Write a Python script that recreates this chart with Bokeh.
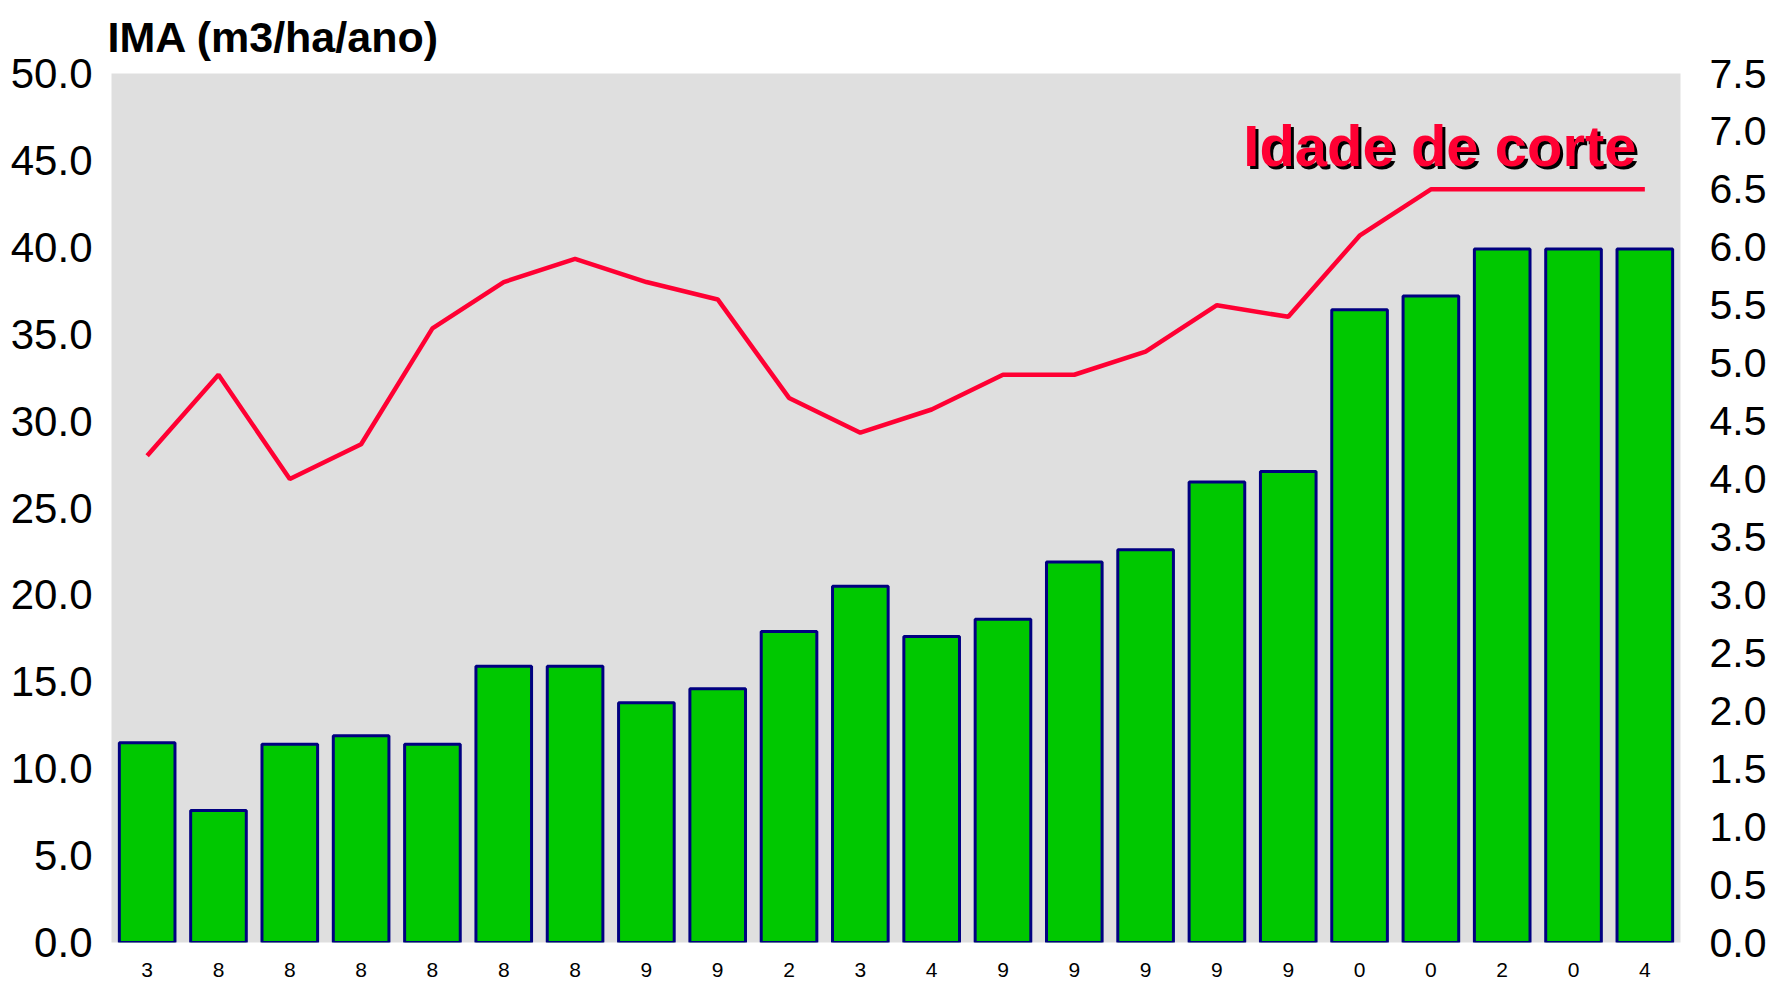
from bokeh.plotting import figure
from bokeh.models import Range1d, LinearAxis, FixedTicker, PrintfTickFormatter, Label
from bokeh.embed import file_html
from bokeh.resources import INLINE

# ---- data ----
x_labels = ["3", "8", "8", "8", "8", "8", "8", "9", "9", "2", "3",
            "4", "9", "9", "9", "9", "9", "0", "0", "2", "0", "4"]
ima = [11.5, 7.6, 11.4, 11.9, 11.4, 15.9, 15.9, 13.8, 14.6, 17.9, 20.5,
       17.6, 18.6, 21.9, 22.6, 26.5, 27.1, 36.4, 37.2, 39.9, 39.9, 39.9]
idade = [4.2, 4.9, 4.0, 4.3, 5.3, 5.7, 5.9, 5.7, 5.55, 4.7, 4.4,
         4.6, 4.9, 4.9, 5.1, 5.5, 5.4, 6.1, 6.5, 6.5, 6.5, 6.5]
left_ticks = [0, 5, 10, 15, 20, 25, 30, 35, 40, 45, 50]
right_ticks = [0, 0.5, 1, 1.5, 2, 2.5, 3, 3.5, 4, 4.5, 5, 5.5, 6, 6.5, 7, 7.5]
title_text = "IMA (m3/ha/ano)"
line_label = "Idade de corte"

FONT = "Liberation Sans, Arial, sans-serif"
xs = list(range(len(x_labels)))

p = figure(width=1774, height=986, output_backend="svg", toolbar_location=None,
           x_range=Range1d(-0.5, len(x_labels) - 0.5), y_range=Range1d(0, 50),
           min_border_left=111, min_border_right=94, min_border_top=73,
           min_border_bottom=44)
p.extra_y_ranges = {"r": Range1d(0, 7.5)}

p.background_fill_color = "#DFDFDF"
p.border_fill_color = "white"
p.outline_line_color = None
p.xgrid.visible = False
p.ygrid.visible = False

p.title.text = title_text
p.title.align = "left"
p.title.vertical_align = "top"
p.title.offset = -4
p.title.standoff = 22
p.title.text_font = FONT
p.title.text_font_size = "43px"
p.title.text_font_style = "bold"
p.title.text_color = "black"

# bars
p.vbar(x=xs, top=ima, width=0.78, bottom=0, fill_color="#00C800",
       line_color="#000080", line_width=3)

# line on secondary axis
p.line(x=xs, y=idade, y_range_name="r", line_color="#FF0033", line_width=4.5)

# axes styling
def style_axis(ax, size):
    ax.axis_line_color = None
    ax.major_tick_line_color = None
    ax.minor_tick_line_color = None
    ax.major_tick_out = 0
    ax.major_tick_in = 0
    ax.major_label_text_font = FONT
    ax.major_label_text_font_size = size
    ax.major_label_text_color = "black"

yax = p.yaxis[0]
yax.ticker = FixedTicker(ticks=left_ticks)
yax.formatter = PrintfTickFormatter(format="%.1f")
style_axis(yax, "42px")
yax.major_label_standoff = 19

rax = LinearAxis(y_range_name="r", ticker=FixedTicker(ticks=right_ticks),
                 formatter=PrintfTickFormatter(format="%.1f"))
style_axis(rax, "41px")
rax.major_label_standoff = 29
p.add_layout(rax, "right")

xax = p.xaxis[0]
xax.ticker = FixedTicker(ticks=xs)
xax.major_label_overrides = {i: s for i, s in enumerate(x_labels)}
style_axis(xax, "21px")
xax.major_label_standoff = 20

# annotation with shadow
shadow = Label(x=15.37, y=45.86, text=line_label, text_font=FONT,
               text_font_size="58px", text_font_style="bold", text_color="black",
               text_baseline="middle", x_offset=3, y_offset=-3)
main = Label(x=15.37, y=45.86, text=line_label, text_font=FONT,
             text_font_size="58px", text_font_style="bold", text_color="#FF0033",
             text_baseline="middle")
p.add_layout(shadow)
p.add_layout(main)

open("out.html", "w").write(file_html(p, INLINE))
